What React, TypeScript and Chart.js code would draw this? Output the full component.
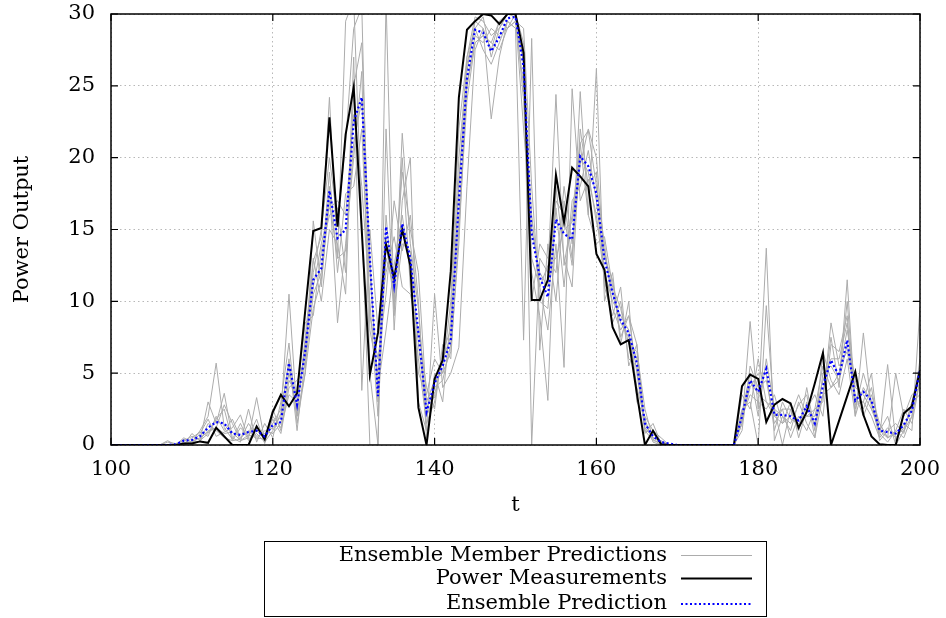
import React, { useEffect, useRef } from "react";
import { Chart, registerables } from "chart.js";

Chart.register(...registerables);

const tValues: number[] = Array.from({ length: 101 }, (_, i) => 100 + i);

const xTicks = [100, 120, 140, 160, 180, 200];
const yTicks = [0, 5, 10, 15, 20, 25, 30];

const measurements: number[] = [
  0, 0, 0, 0, 0, 0, 0, 0, 0, 0.1,
  0.1, 0.25, 0.15, 1.2, 0.6, 0, 0, 0, 1.3, 0.4,
  2.3, 3.5, 2.7, 3.6, 9.3, 14.9, 15.1, 22.8, 15.2, 21.6,
  24.9, 14.9, 4.9, 7.8, 14.0, 11.6, 15.0, 12.5, 2.6, 0,
  4.6, 5.9, 12.1, 24.2, 28.9, 29.5, 30, 29.9, 29.3, 30,
  30, 27.3, 10.1, 10.1, 11.5, 18.8, 15.5, 19.3, 18.7, 18.0,
  13.3, 12.2, 8.2, 7.0, 7.3, 3.6, 0, 1.0, 0.05, 0,
  0, 0, 0, 0, 0, 0, 0, 0, 4.1, 4.9,
  4.6, 1.6, 2.8, 3.2, 2.9, 1.2, 2.3, 4.3, 6.4, 0,
  1.7, 3.4, 5.1, 2.1, 0.6, 0.05, 0, 0, 2.2, 2.7,
  5.2,
];

const ensemblePrediction: number[] = [
  0, 0, 0, 0, 0, 0, 0, 0, 0.05, 0.3,
  0.35, 0.6, 1.2, 1.6, 1.5, 0.8, 0.7, 0.9, 1.0, 0.6,
  1.4, 1.6, 5.7, 2.8, 6.5, 11.5, 12.3, 17.7, 14.4, 15.0,
  22.5, 24.2, 13.0, 3.4, 15.2, 11.1, 15.4, 13.0, 7.8, 2.3,
  4.3, 5.5, 7.3, 17.0, 25.5, 28.9, 28.7, 27.4, 28.4, 29.7,
  29.8, 26.3, 14.7, 11.7, 10.3, 15.7, 14.7, 14.3, 20.1, 19.4,
  17.5, 12.9, 10.6, 8.7, 7.8, 5.7, 1.5, 0.6, 0.2, 0.1,
  0, 0, 0, 0, 0, 0, 0, 0, 2.0, 4.5,
  3.7, 5.3, 2.1, 2.1, 2.0, 1.7, 2.7, 1.5, 4.1, 5.9,
  4.8, 7.3, 3.1, 3.7, 3.1, 1.0, 0.9, 0.8, 1.4, 2.4,
  5.2,
];

const member1: number[] = [
  0, 0, 0, 0, 0, 0, 0, 0, 0, 0.5,
  0.2, 1.0, 2.0, 5.7, 1.2, 0.4, 1.5, 0.3, 0.8, 0.2,
  1.0, 2.2, 10.5, 2.0, 7.5, 12.8, 14.5, 24.2, 13.0, 29.5,
  31, 15.5, 0, 0, 31, 9.0, 21.7, 14.0, 9.5, 2.0,
  3.5, 6.0, 7.5, 18.0, 27.0, 29.8, 29.5, 28.5, 29.0, 30,
  30, 28.0, 0, 13.0, 12.0, 24.4, 12.5, 16.0, 21.0, 21.9,
  18.0, 14.0, 9.5, 8.0, 9.0, 7.0, 1.0, 0.3, 0.2, 0,
  0, 0, 0, 0, 0, 0, 0, 0, 1.5, 8.6,
  2.5, 13.7, 0.3, 2.0, 1.5, 2.8, 3.5, 0.5, 3.5, 7.5,
  4.0, 11.5, 2.5, 5.0, 3.0, 0.5, 5.6, 0.3, 1.5, 1.0,
  9.6,
];

const member2: number[] = [
  0, 0, 0, 0, 0, 0, 0, 0.3, 0, 0,
  0.8, 0.3, 3.0, 1.5, 3.6, 0.5, 0.2, 2.5, 0.2, 1.5,
  0.5, 3.0, 7.1, 1.5, 5.0, 15.6, 11.0, 18.0, 8.5, 14.0,
  20.0, 26.0, 5.0, 0, 22.0, 8.0, 17.0, 20.0, 3.0, 1.0,
  10.5, 4.0, 5.0, 6.8, 18.0, 27.5, 29.0, 22.7, 27.0, 29.5,
  29.0, 7.3, 28.3, 6.6, 14.0, 10.0, 17.0, 13.0, 24.6, 16.0,
  26.2, 10.0, 12.0, 7.0, 10.0, 3.0, 2.0, 1.0, 0.5, 0,
  0, 0, 0, 0, 0, 0, 0, 0, 2.5, 3.0,
  0, 9.7, 2.0, 1.5, 3.0, 0.5, 2.5, 3.5, 2.0, 7.0,
  6.5, 9.0, 2.0, 7.8, 2.5, 1.5, 0.5, 5.0, 2.0, 3.5,
  4.0,
];

const member3: number[] = [
  0, 0, 0, 0, 0, 0, 0, 0.2, 0.1, 0.3,
  0.6, 0.4, 1.0, 1.2, 2.8, 1.5, 0.3, 0.5, 3.3, 0.3,
  2.5, 1.0, 4.5, 3.5, 8.5, 9.0, 13.5, 16.0, 16.5, 12.0,
  27.0, 3.8, 15.0, 8.0, 12.0, 14.5, 11.0, 10.5, 8.0, 4.0,
  2.5, 7.0, 6.0, 15.0, 24.0, 28.0, 28.5, 28.0, 29.5, 29.0,
  29.5, 25.0, 16.0, 11.0, 8.0, 14.0, 5.4, 24.8, 17.0, 18.5,
  16.0, 11.5, 8.5, 10.0, 6.0, 5.5, 0.8, 1.5, 0.1, 0,
  0, 0, 0, 0, 0, 0, 0, 0, 1.0, 5.5,
  4.0, 4.5, 1.5, 2.5, 0.5, 2.0, 1.0, 2.5, 5.5, 4.0,
  5.0, 8.0, 4.5, 2.5, 4.0, 0.8, 0.2, 1.0, 0.5, 2.0,
  6.0,
];

const member4: number[] = [
  0, 0, 0, 0, 0, 0, 0, 0, 0, 0.2,
  0.1, 0.8, 1.8, 0.6, 0.9, 1.2, 2.1, 0.4, 1.0, 0.5,
  1.8, 0.8, 4.0, 4.5, 5.5, 10.5, 12.0, 19.0, 12.0, 17.5,
  18.0, 22.0, 9.0, 6.0, 10.5, 17.0, 13.5, 16.0, 10.0, 0.5,
  5.0, 3.0, 9.0, 20.0, 26.5, 29.0, 29.8, 27.0, 29.0, 30,
  30, 24.0, 12.0, 9.0, 3.1, 18.0, 13.0, 11.0, 21.0, 16.0,
  14.0, 14.5, 11.0, 9.5, 7.0, 6.5, 2.5, 0.4, 0, 0,
  0, 0, 0, 0, 0, 0, 0, 0, 3.5, 2.5,
  6.0, 3.0, 2.5, 0, 2.5, 1.0, 4.0, 1.0, 6.5, 4.5,
  3.5, 6.0, 2.0, 4.0, 3.0, 1.0, 2.0, 0, 1.0, 3.0,
  3.5,
];

const member5: number[] = [
  0, 0, 0, 0, 0, 0, 0, 0, 0, 0,
  0.3, 0.2, 1.5, 1.0, 0.5, 0.3, 0.4, 1.5, 0.6, 0.8,
  1.2, 2.0, 6.0, 1.0, 6.0, 13.0, 10.0, 15.0, 14.0, 10.5,
  25.0, 28.0, 12.0, 4.0, 8.0, 12.5, 16.0, 12.0, 5.0, 3.5,
  6.0, 5.0, 10.0, 22.0, 27.0, 29.0, 27.5, 26.5, 28.0, 29.5,
  29.0, 27.0, 10.0, 14.0, 13.0, 12.0, 18.0, 14.0, 19.5, 22.0,
  20.0, 13.0, 11.5, 7.5, 9.0, 5.0, 1.2, 0.5, 0.3, 0,
  0, 0, 0, 0, 0, 0, 0, 0, 2.0, 3.5,
  3.0, 2.5, 3.5, 1.5, 2.0, 3.5, 2.0, 2.5, 3.0, 8.5,
  5.5, 6.5, 3.5, 2.0, 3.5, 1.5, 0.5, 1.0, 2.5, 1.5,
  4.5,
];

const member6: number[] = [
  0, 0, 0, 0, 0, 0, 0, 0, 0, 0,
  0.5, 0.9, 0.6, 2.0, 1.0, 1.8, 0.5, 1.0, 0.4, 1.0,
  0.8, 1.5, 5.0, 2.5, 7.0, 11.0, 14.0, 16.5, 17.0, 16.0,
  23.0, 18.0, 10.0, 2.0, 14.0, 10.0, 20.0, 11.0, 6.0, 1.5,
  3.0, 6.5, 8.0, 16.0, 25.0, 28.5, 28.0, 29.0, 28.5, 29.0,
  29.5, 29.0, 18.0, 10.0, 9.5, 16.5, 11.0, 17.0, 18.0, 20.5,
  17.0, 12.0, 10.0, 9.0, 8.0, 4.0, 1.8, 0.2, 0, 0,
  0, 0, 0, 0, 0, 0, 0, 0, 1.8, 4.0,
  5.0, 5.0, 1.0, 3.0, 1.8, 1.5, 2.0, 2.0, 4.5, 6.0,
  6.0, 8.5, 3.0, 3.0, 2.0, 0.5, 1.2, 0.5, 1.2, 2.5,
  5.0,
];

const member7: number[] = [
  0, 0, 0, 0, 0, 0, 0, 0, 0, 0.4,
  0, 0.3, 0.8, 1.8, 2.5, 0.3, 1.2, 0.6, 1.8, 0.1,
  2.0, 1.2, 3.5, 3.0, 6.5, 12.0, 15.0, 20.0, 15.5, 21.0,
  29.0, 30.5, 8.0, 5.0, 13.0, 11.0, 19.0, 15.0, 12.0, 3.0,
  4.5, 5.0, 6.5, 14.0, 26.0, 29.5, 29.0, 27.5, 29.5, 30,
  29.8, 22.0, 15.0, 12.0, 11.0, 17.0, 16.0, 12.5, 22.0, 18.0,
  19.0, 11.0, 9.0, 11.0, 5.5, 7.0, 1.0, 0.8, 0.2, 0,
  0, 0, 0, 0, 0, 0, 0, 0, 2.2, 5.0,
  2.0, 6.0, 2.5, 2.0, 1.0, 3.0, 1.5, 0.5, 5.0, 5.5,
  4.5, 10.0, 2.8, 3.0, 5.0, 0.3, 1.0, 1.5, 0.8, 3.0,
  5.5,
];

const member8: number[] = [
  0, 0, 0, 0, 0, 0, 0, 0, 0, 0,
  0.2, 0.5, 0.9, 1.2, 0.8, 0.9, 0.3, 0.7, 0.5, 0.4,
  1.5, 2.5, 5.5, 2.0, 5.0, 9.5, 11.5, 17.0, 13.0, 13.5,
  21.0, 24.0, 13.0, 3.0, 16.0, 9.5, 14.0, 13.5, 7.0, 2.5,
  4.0, 4.5, 7.0, 18.5, 25.0, 28.0, 28.5, 28.0, 27.5, 29.0,
  30, 26.5, 13.0, 11.0, 12.5, 13.0, 15.0, 15.5, 20.0, 19.0,
  15.5, 13.5, 10.5, 8.5, 7.5, 6.0, 1.5, 0.5, 0.2, 0,
  0, 0, 0, 0, 0, 0, 0, 0, 1.5, 4.5,
  3.5, 3.0, 2.0, 2.5, 2.5, 1.0, 3.0, 1.5, 3.5, 4.0,
  4.5, 7.0, 4.0, 3.5, 2.5, 1.0, 0.5, 0.8, 1.0, 2.0,
  4.5,
];

const members: number[][] = [member1, member2, member3, member4, member5, member6, member7, member8];

const legendLabels = ["Ensemble Member Predictions", "Power Measurements", "Ensemble Prediction"];

const FONT = "'DejaVu Serif', serif";
const FONT_SIZE = 21;
const GRAY = "#acacac";
const BLUE = "#0000ff";

function toPoints(values: number[]) {
  return values.map((y, i) => ({ x: tValues[i], y }));
}

const framePlugin = {
  id: "gnuplotFrame",
  afterDatasetsDraw(chart: any) {
    const { ctx, chartArea, scales } = chart;
    const { left, right, top, bottom } = chartArea;
    ctx.save();
    ctx.strokeStyle = "#000";
    ctx.lineWidth = 1.5;
    ctx.setLineDash([]);
    ctx.strokeRect(left, top, right - left, bottom - top);
    ctx.lineWidth = 1.2;
    const tl = 7;
    ctx.beginPath();
    xTicks.forEach((v) => {
      const px = scales.x.getPixelForValue(v);
      ctx.moveTo(px, bottom);
      ctx.lineTo(px, bottom - tl);
      ctx.moveTo(px, top);
      ctx.lineTo(px, top + tl);
    });
    yTicks.forEach((v) => {
      const py = scales.y.getPixelForValue(v);
      ctx.moveTo(left, py);
      ctx.lineTo(left + tl, py);
      ctx.moveTo(right, py);
      ctx.lineTo(right - tl, py);
    });
    ctx.stroke();
    ctx.restore();
  },
  afterDraw(chart: any) {
    const { ctx } = chart;
    ctx.save();
    const bx = 264, by = 541, bw = 502, bh = 75;
    ctx.strokeStyle = "#000";
    ctx.lineWidth = 1;
    ctx.setLineDash([]);
    ctx.strokeRect(bx + 0.5, by + 0.5, bw, bh);
    const rows = [555.5, 578.5, 604];
    const styles = [
      { color: GRAY, width: 1, dash: [] as number[] },
      { color: "#000", width: 2, dash: [] as number[] },
      { color: BLUE, width: 2, dash: [2, 2.5] },
    ];
    ctx.font = `${FONT_SIZE}px ${FONT}`;
    ctx.fillStyle = "#000";
    ctx.textAlign = "right";
    ctx.textBaseline = "middle";
    legendLabels.forEach((label, i) => {
      ctx.fillText(label, 667, rows[i]);
      const s = styles[i];
      ctx.beginPath();
      ctx.strokeStyle = s.color;
      ctx.lineWidth = s.width;
      ctx.setLineDash(s.dash);
      ctx.moveTo(681, rows[i]);
      ctx.lineTo(752, rows[i]);
      ctx.stroke();
    });
    ctx.restore();
  },
};

export default function App() {
  const canvasRef = useRef<HTMLCanvasElement | null>(null);

  useEffect(() => {
    document.body.style.margin = "0";
    const canvas = canvasRef.current;
    if (!canvas) return;

    const datasets: any[] = [
      {
        label: legendLabels[2],
        data: toPoints(ensemblePrediction),
        borderColor: BLUE,
        borderWidth: 2.2,
        borderDash: [2, 2.5],
        pointRadius: 0,
        tension: 0,
        fill: false,
      },
      {
        label: legendLabels[1],
        data: toPoints(measurements),
        borderColor: "#000",
        borderWidth: 2,
        pointRadius: 0,
        tension: 0,
        fill: false,
      },
      ...members.map((m, i) => ({
        label: `${legendLabels[0]} ${i + 1}`,
        data: toPoints(m),
        borderColor: GRAY,
        borderWidth: 1,
        pointRadius: 0,
        tension: 0,
        fill: false,
      })),
    ];

    const chart = new Chart(canvas, {
      type: "line",
      data: { datasets },
      plugins: [framePlugin],
      options: {
        responsive: false,
        animation: false,
        events: [],
        layout: { padding: { left: 0, right: 26, top: 14, bottom: 100 } },
        plugins: {
          legend: { display: false },
          tooltip: { enabled: false },
        },
        scales: {
          x: {
            type: "linear",
            min: 100,
            max: 200,
            border: { display: false, dash: [1.5, 3] },
            afterBuildTicks: (s: any) => {
              s.ticks = xTicks.map((v) => ({ value: v }));
            },
            afterFit: (s: any) => {
              s.height = 73;
              s.paddingLeft = 0;
              s.paddingRight = 0;
            },
            grid: {
              drawTicks: false,
              color: "#b8b8b8",
              lineWidth: 1,
            },
            ticks: {
              padding: 12,
              color: "#000",
              maxRotation: 0,
              font: { family: FONT, size: FONT_SIZE },
            },
            title: {
              display: true,
              text: "t",
              color: "#000",
              padding: { top: 0, bottom: 0 },
              font: { family: FONT, size: FONT_SIZE },
            },
          },
          y: {
            type: "linear",
            min: 0,
            max: 30,
            border: { display: false, dash: [1.5, 3] },
            afterBuildTicks: (s: any) => {
              s.ticks = yTicks.map((v) => ({ value: v }));
            },
            afterFit: (s: any) => {
              s.width = 111;
              s.paddingTop = 0;
              s.paddingBottom = 0;
            },
            grid: {
              drawTicks: false,
              color: "#b8b8b8",
              lineWidth: 1,
            },
            ticks: {
              padding: 16,
              color: "#000",
              font: { family: FONT, size: FONT_SIZE },
            },
            title: {
              display: true,
              text: "Power Output",
              color: "#000",
              padding: { top: 10, bottom: 0 },
              font: { family: FONT, size: FONT_SIZE },
            },
          },
        },
      } as any,
    });

    return () => chart.destroy();
  }, []);

  return (
    <div style={{ width: 946, height: 618 }}>
      <canvas ref={canvasRef} width={946} height={618} style={{ display: "block" }} />
    </div>
  );
}
